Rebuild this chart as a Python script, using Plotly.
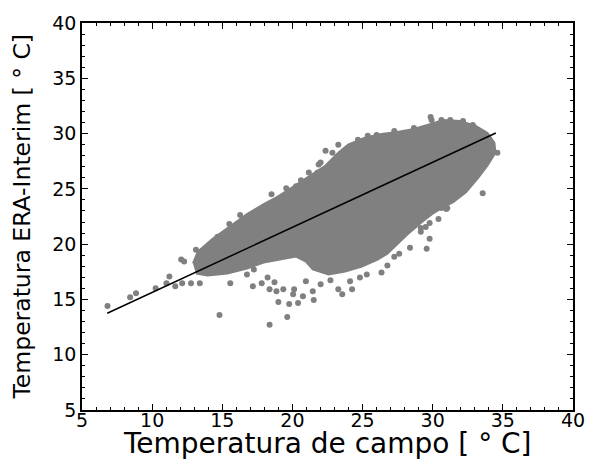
import plotly.graph_objects as go

# Outline of the dense point cloud (field temp, ERA-Interim temp)
cloud_x = [12.91, 13.26, 14.31, 15.57, 16.76, 17.95, 18.86, 19.77, 20.96, 21.66, 22.36, 23.27,
           23.97, 25.16, 26.35, 27.47, 28.66, 29.85, 30.76, 31.95, 33.07, 33.91, 34.40, 34.47,
           33.91, 33.21, 32.37, 31.46, 30.76, 30.06, 29.15, 28.17, 27.47, 26.77, 26.07, 24.95,
           23.76, 22.57, 21.45, 20.96, 20.26, 19.07, 17.95, 16.76, 15.36, 13.96, 13.12]
cloud_y = [18.25, 19.32, 20.49, 21.65, 22.72, 23.62, 24.24, 24.96, 25.95, 26.48, 27.11, 28.27,
           28.99, 29.62, 29.97, 30.15, 30.42, 30.87, 31.23, 31.14, 30.69, 30.06, 29.17, 28.27,
           27.11, 25.95, 24.69, 23.80, 23.35, 22.81, 21.92, 20.84, 19.95, 19.14, 18.61, 17.98,
           17.53, 17.26, 17.71, 18.43, 18.87, 18.61, 18.34, 17.80, 17.35, 17.17, 17.35]

# Individual scattered points outside the dense cloud
pts_x = [6.82, 8.43, 8.85, 10.25, 11.23, 11.02, 11.65, 12.07, 12.28, 12.14, 12.77, 13.40, 13.12,
         14.80, 15.57, 17.18, 17.81, 18.37, 19.63, 19.00, 19.77, 20.40, 18.37, 18.86, 19.35,
         20.12, 20.05, 20.75, 21.52, 21.45, 23.27, 23.55, 24.25, 18.72, 18.23, 16.76, 17.25,
         20.96, 22.01, 22.71, 24.11, 24.81, 25.30, 26.35,
         26.77, 27.26, 27.61, 28.38, 29.57, 29.78, 29.15, 29.15, 29.50, 29.78, 30.41, 30.62,
         31.04, 33.56, 30.97, 31.67, 32.51,
         18.51, 19.56, 20.26, 20.61, 21.17, 21.87, 14.66, 15.50, 16.27, 22.36, 22.85, 23.27,
         22.01, 21.80, 24.67, 25.37, 26.00, 27.26, 28.66, 29.85, 29.92, 30.62, 31.25, 32.16,
         32.86, 33.77, 34.61]
pts_y = [14.40, 15.20, 15.56, 16.01, 17.08, 16.46, 16.19, 18.61, 18.43, 16.46, 16.46, 16.46, 19.50,
         13.59, 16.46, 16.19, 16.46, 12.70, 13.41, 14.76, 14.58, 14.67, 15.92, 15.74, 15.92,
         15.92, 15.47, 15.29, 14.94, 15.74, 15.92, 15.47, 15.92, 16.55, 16.99, 17.26, 17.71,
         16.64, 16.37, 16.73, 16.64, 16.99, 17.26, 17.44,
         18.07, 18.87, 19.14, 19.68, 19.59, 20.49, 21.11, 21.47, 21.56, 21.92, 22.28, 23.26,
         23.26, 24.60, 23.17, 24.51, 25.32,
         24.51, 25.05, 25.23, 25.77, 26.48, 27.20, 20.66, 21.83, 22.63, 28.45, 28.27, 28.99,
         27.38, 26.48, 29.44, 29.80, 29.88, 30.24, 30.51, 31.50, 31.23, 31.23, 31.23, 31.14,
         30.78, 29.80, 28.27]

# Regression line end points
fit_x = [6.8, 34.5]
fit_y = [13.75, 30.05]

tick_vals = [5, 10, 15, 20, 25, 30, 35, 40]

gray = "#808080"
fig = go.Figure()
fig.add_trace(go.Scatter(x=cloud_x, y=cloud_y, mode="lines", fill="toself",
                         fillcolor=gray, line=dict(color=gray, width=2), hoverinfo="skip"))
fig.add_trace(go.Scatter(x=pts_x, y=pts_y, mode="markers",
                         marker=dict(size=6, color=gray, line=dict(width=0))))
fig.add_trace(go.Scatter(x=fit_x, y=fit_y, mode="lines", line=dict(color="black", width=1.5)))

axis_common = dict(range=[5, 40], tickvals=tick_vals, ticks="inside", ticklen=6, tickwidth=1,
                   tickcolor="black", showline=True, linecolor="black", linewidth=1.5,
                   mirror="ticks", showgrid=False, zeroline=False,
                   minor=dict(ticks="inside", dtick=1, ticklen=3, tickcolor="black", showgrid=False),
                   tickfont=dict(family="DejaVu Sans", size=19, color="black"))
fig.update_xaxes(**axis_common, ticklabelstandoff=-8)
fig.update_yaxes(**axis_common)

fig.update_layout(
    width=597, height=459, showlegend=False,
    margin=dict(l=82, r=15, t=19, b=49),
    paper_bgcolor="white", plot_bgcolor="white",
    annotations=[
        dict(text="Temperatura de campo [ ° C]", xref="paper", yref="paper", x=0.5, y=0,
             xanchor="center", yanchor="top", yshift=-15, showarrow=False,
             font=dict(family="DejaVu Sans", size=28, color="black")),
        dict(text="Temperatura ERA-Interim [ ° C]", xref="paper", yref="paper", x=0, y=0.5,
             xanchor="right", yanchor="middle", xshift=-45, textangle=-90, showarrow=False,
             font=dict(family="DejaVu Sans", size=23.5, color="black")),
    ],
)
fig.write_html("out.html")
